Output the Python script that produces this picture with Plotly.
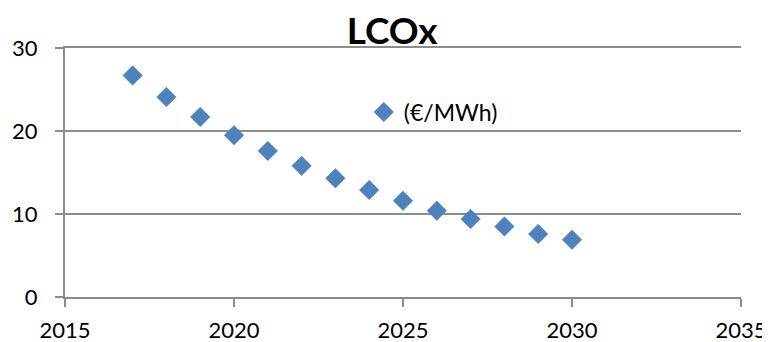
import plotly.graph_objects as go

years = [2017, 2018, 2019, 2020, 2021, 2022, 2023, 2024, 2025, 2026, 2027, 2028, 2029, 2030]
lcox = [26.7, 24.1, 21.7, 19.5, 17.6, 15.8, 14.3, 12.9, 11.6, 10.4, 9.4, 8.5, 7.6, 6.9]
series_name = "(€/MWh)"
title_text = "LCOx"
x_ticks = [2015, 2020, 2025, 2030, 2035]
y_ticks = [0, 10, 20, 30]

grid = "#8c8c8c"
font_family = "Lato, Open Sans, sans-serif"

fig = go.Figure()
fig.add_trace(go.Scatter(
    x=years, y=lcox, mode="markers", name=series_name,
    marker=dict(symbol="diamond", size=15, color="#4F81BD",
                line=dict(width=0.5, color="#4a7ab3")),
))

# page body has an 8px margin, so the figure is sized to the visible area
fig.update_layout(
    width=762, height=334,
    margin=dict(l=57, r=29, t=40, b=45),
    paper_bgcolor="white", plot_bgcolor="white",
    font=dict(family=font_family, size=22, color="black"),
    title=dict(text="<b>" + title_text + "</b>", x=0.504, xanchor="center",
               y=0.932, yanchor="middle", font=dict(size=37, color="black")),
    showlegend=True,
    legend=dict(x=0.442, y=0.743, xanchor="left", yanchor="middle",
                itemwidth=30, bgcolor="rgba(0,0,0,0)", font=dict(size=23)),
    xaxis=dict(range=[2015, 2035], tickvals=x_ticks, showgrid=False,
               zeroline=False, showline=True, linecolor=grid, linewidth=2,
               mirror=True, ticks="outside", ticklen=8,
               tickwidth=2, tickcolor=grid, ticklabelstandoff=5,
               automargin=False),
    yaxis=dict(range=[0, 30], tickvals=y_ticks, showgrid=True, gridcolor=grid,
               gridwidth=2, zeroline=False, showline=True, linecolor=grid,
               linewidth=2, ticks="outside", ticklen=8, tickwidth=2,
               tickcolor=grid, ticklabelstandoff=13, automargin=False),
)

fig.write_html("out.html")
